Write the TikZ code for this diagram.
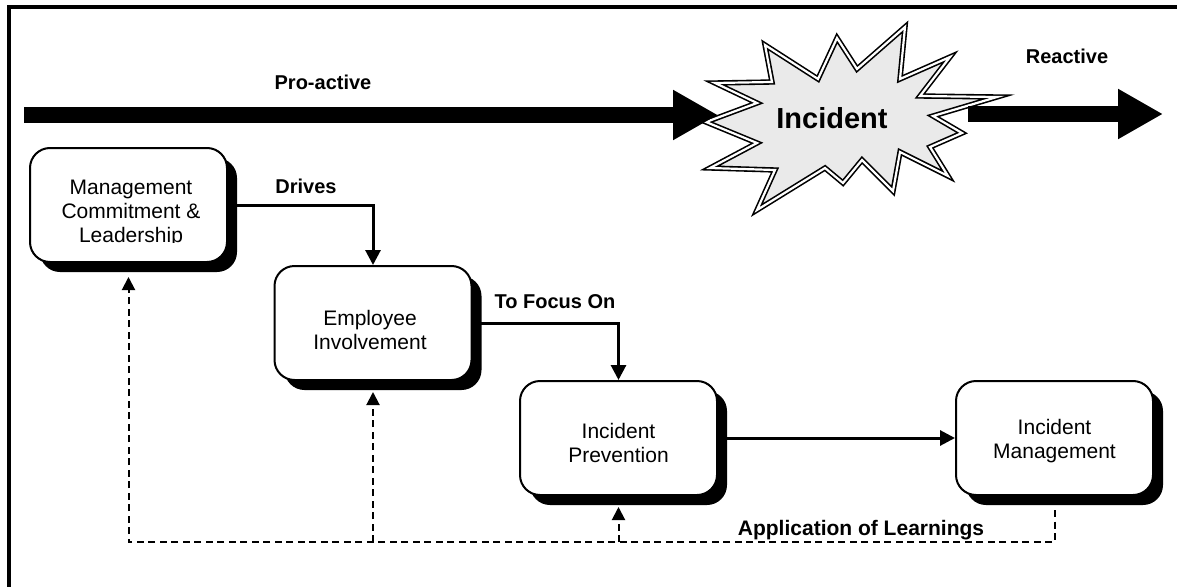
\documentclass[tikz,border=0pt]{standalone}
\usepackage{fontspec}
\setmainfont{Liberation Sans}
\usetikzlibrary{arrows.meta,calc,shadows}
\definecolor{starfill}{RGB}{234,234,234}
\begin{document}
\begin{tikzpicture}[x=1pt,y=-1pt,
  procbox/.style={draw, line width=2pt, rounded corners=20pt, fill=white,
    minimum width=197pt, minimum height=114pt, inner sep=0pt,
    drop shadow={shadow xshift=10pt, shadow yshift=-10pt, fill=black, opacity=1}},
  boxtext/.style={align=center, inner sep=0pt, font=\fontsize{21}{24}\selectfont},
  lbl/.style={font=\bfseries\fontsize{20}{24}\selectfont, inner sep=0pt},
  flow/.style={line width=3pt, -{Triangle[width=15pt,length=15pt]}},
  fb/.style={line width=2pt, dash pattern=on 7pt off 4.5pt, -{Triangle[width=13pt,length=13pt]}},
  blockarrow/.style={line width=16pt, -{Triangle[width=47pt,length=45pt]}},
  burst/.style={fill=starfill, draw=black, line width=1.6pt, double=white,
    double distance=2.2pt, line join=miter}
]
\useasboundingbox (0,0) rectangle (1177,586);
\clip (0,0) rectangle (1177,586);

% outer frame (only its top and left edges fall on the page)
\draw[line width=4pt] (9,640) -- (9,7) -- (1220,7);

% phase labels
\node[lbl] (pro) at (323,82) {Pro-active};
\node[lbl] (re) at (1067,56) {Reactive};

% incident burst
\draw[burst] (706,122) -- (757,103) -- (715,83) -- (772,82) -- (765,45)
  -- (818,79) -- (837,38) -- (857,69) -- (905,27) -- (900,79) -- (950,57)
  -- (920,96) -- (997,97) -- (933,116) -- (962,133) -- (930,147) -- (948,176)
  -- (900,152) -- (893,191) -- (862,160) -- (843,183) -- (825,168) -- (757,210)
  -- (775,170) -- (710,168) -- (757,143) -- cycle;
\node[font=\bfseries\fontsize{29}{30}\selectfont, inner sep=0pt] (inc) at (832,118) {Incident};

% timeline arrows
\coordinate (pa1) at (24,115);
\coordinate (pa2) at (718,115);
\coordinate (ra1) at (968,114);
\coordinate (ra2) at (1163,114);
\draw[blockarrow] (pa1) -- (pa2);
\draw[blockarrow] (ra1) -- (ra2);

% process boxes
\node[procbox] (mc) at (128.5,205) {};
\node[procbox] (ei) at (373,323) {};
\node[procbox] (ip) at (618.5,438) {};
\node[procbox] (im) at (1054.5,438) {};

% box captions (the first one is cut off by its text frame)
\begin{scope}
  \clip ($(mc.north west)+(2,2)$) rectangle ($(mc.south east)+(-2,-21)$);
  \node[boxtext] (mctext) at (131,213) {Management\\Commitment \&\\Leadership};
\end{scope}
\node[boxtext] (eitext) at ($(ei.center)+(-3,7)$) {Employee\\Involvement};
\node[boxtext] (iptext) at ($(ip.center)+(0,5)$) {Incident\\Prevention};
\node[boxtext] (imtext) at ($(im.center)+(0,3)$) {Incident\\Management};

% forward flow
\draw[flow] (mc.east) -| (ei.north);
\draw[flow] (ei.east) -| (ip.north);
\draw[flow] (ip.east) -- (im.west);
\node[lbl] (drv) at (306,186) {Drives};
\node[lbl] (foc) at (555,302) {To Focus On};

% feedback of learnings
\coordinate (bot) at (0,542);
\draw[fb] ($(im.south)+(0,14)$) -- (im.south |- bot) -- (mc.south |- bot)
  -- ($(mc.south)+(0,14)$);
\draw[fb] (ei.south |- bot) -- ($(ei.south)+(0,11)$);
\draw[fb] (ip.south |- bot) -- ($(ip.south)+(0,11)$);
\node[font=\bfseries\fontsize{21}{24}\selectfont, inner sep=0pt] (learn) at (861,530) {Application of Learnings};
\end{tikzpicture}
\end{document}
